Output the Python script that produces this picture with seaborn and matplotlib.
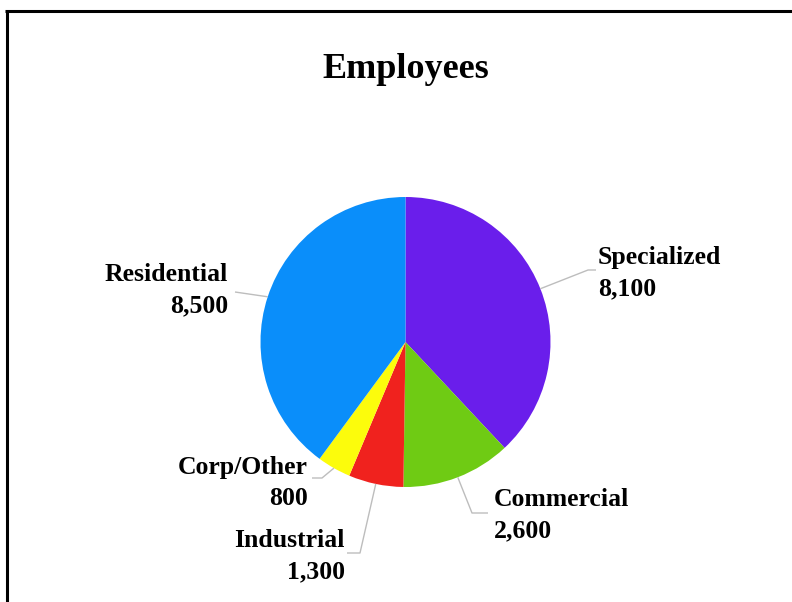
import numpy as np
import matplotlib
matplotlib.use("Agg")
import matplotlib.pyplot as plt
from matplotlib.lines import Line2D
import seaborn as sns

# ---- data ----
categories = ["Specialized", "Commercial", "Industrial", "Corp/Other", "Residential"]
employees = [8100, 2600, 1300, 800, 8500]
value_labels = ["8,100", "2,600", "1,300", "800", "8,500"]
colors_hex = ["#6A1EEB", "#6FCB14", "#F0221E", "#FCFC0C", "#0A8EFA"]
title = "Employees"

sns.set_theme(style="white")
plt.rcParams["font.family"] = ["Liberation Serif", "DejaVu Serif"]

W, H, DPI = 792, 602, 100
fig = plt.figure(figsize=(W / DPI, H / DPI), dpi=DPI, facecolor="white")
ax = fig.add_axes([0, 0, 1, 1])

# pixel layout -> data coordinates (radius 1 == R pixels)
CX, CY, R = 405.5, 342.0, 145.0

def px(x, y):
    return ((x - CX) / R, (CY - y) / R)

palette = sns.color_palette(colors_hex)
wedges, _ = ax.pie(employees, colors=palette, startangle=90, counterclock=False,
                   radius=1.0, center=(0, 0), wedgeprops=dict(linewidth=0))
ax.set_xlim(-CX / R, (W - CX) / R)
ax.set_ylim(-(H - CY) / R, CY / R)
ax.set_aspect("auto")
ax.axis("off")

# label layout (pixels): text anchor, alignment, leader elbow points
layout = {
    "Specialized": dict(pos=(598, 273), ha="left", path=[(588, 270), (596, 270)]),
    "Commercial": dict(pos=(494, 515), ha="left", path=[(472, 513), (488, 513)]),
    "Industrial": dict(pos=(345, 556), ha="right", path=[(360, 553), (347, 553)]),
    "Corp/Other": dict(pos=(308, 483), ha="right", path=[(322, 478), (312, 478)]),
    "Residential": dict(pos=(228, 290), ha="right", path=[(235, 292)]),
}

for w, cat, vl in zip(wedges, categories, value_labels):
    mid = np.deg2rad((w.theta1 + w.theta2) / 2)
    sx, sy = np.cos(mid), np.sin(mid)
    L = layout[cat]
    pts = [(sx, sy)] + [px(*p) for p in L["path"]]
    xs, ys = zip(*pts)
    ax.plot(xs, ys, color="#BDBDBD", lw=1.0, solid_capstyle="butt")
    tx, ty = px(*L["pos"])
    ax.text(tx, ty, f"{cat}\n{vl}", ha=L["ha"], va="center", multialignment=L["ha"],
            fontsize=18.5, fontweight="bold", color="#000000", linespacing=1.45)

tx, ty = px(406, 69)
ax.text(tx, ty, title, ha="center", va="center", fontsize=26, fontweight="bold", color="#000000")

# frame lines (top and left)
fig.add_artist(Line2D([5 / W, 1.0], [1 - 11 / H, 1 - 11 / H], transform=fig.transFigure,
                      color="black", lw=2.2, solid_capstyle="butt"))
fig.add_artist(Line2D([7 / W, 7 / W], [1 - 10 / H, 0], transform=fig.transFigure,
                      color="black", lw=2.2, solid_capstyle="butt"))

fig.savefig("out.png", dpi=DPI, facecolor="white")
